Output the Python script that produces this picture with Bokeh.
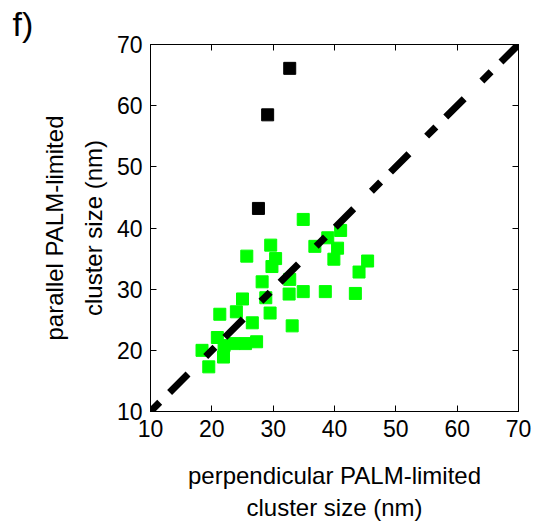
from bokeh.plotting import figure
from bokeh.models import Range1d, LinearAxis, FixedTicker, Title
from bokeh.embed import file_html
from bokeh.resources import INLINE

# Data (nm)
green_perp = [34.9, 29.6, 25.7, 30.4, 29.8, 28.2, 32.7, 28.8, 32.6, 34.9, 25.0,
              36.8, 38.9, 41.0, 40.5, 39.9, 45.4, 44.0, 43.4, 38.5, 33.1,
              21.3, 24.0, 29.5, 26.6, 20.9, 23.6, 22.0, 25.5, 27.3, 18.4, 21.9, 19.5]
green_par = [41.4, 37.2, 35.4, 35.0, 33.7, 31.2, 31.6, 28.6, 29.2, 29.6, 28.4,
             37.0, 38.4, 39.6, 36.7, 34.9, 34.6, 32.8, 29.3, 29.6, 24.0,
             25.9, 26.3, 26.1, 24.5, 22.1, 21.1, 20.8, 21.1, 21.4, 20.0, 18.9, 17.3]
black_perp = [32.7, 29.1, 27.6]
black_par = [66.1, 58.5, 43.2]
diag = [10, 70]
ticks = [10, 20, 30, 40, 50, 60, 70]

FONT = "Liberation Sans"

p = figure(width=534, height=523, x_range=Range1d(10, 70), y_range=Range1d(10, 70),
           output_backend="svg", toolbar_location=None,
           min_border_left=150, min_border_right=16, min_border_top=44, min_border_bottom=110)
p.grid.visible = False
p.outline_line_color = "black"
p.outline_line_width = 1

p.scatter(green_perp, green_par, marker="square", size=12, fill_color="#00ff00", line_color="#00ff00")
p.scatter(black_perp, black_par, marker="square", size=12, fill_color="black", line_color="black")
p.line(diag, diag, line_color="black", line_width=7, line_dash="13 14 26 25")

for ax in (p.xaxis[0], p.yaxis[0]):
    ax.ticker = FixedTicker(ticks=ticks)
    ax.major_tick_in = 6
    ax.major_tick_out = 0
    ax.minor_tick_line_color = None
    ax.axis_line_color = "black"
    ax.major_tick_line_color = "black"
    ax.major_label_text_font = FONT
    ax.major_label_text_font_size = "23px"
    ax.major_label_text_color = "black"
    ax.axis_label_text_font = FONT
    ax.axis_label_text_font_size = "24px"
    ax.axis_label_text_font_style = "normal"
    ax.axis_label_text_color = "black"

p.xaxis[0].axis_label = "perpendicular PALM-limited\ncluster size (nm)"
p.yaxis[0].axis_label = "parallel PALM-limited\ncluster size (nm)"
p.xaxis[0].axis_label_text_line_height = 1.2
p.yaxis[0].axis_label_text_line_height = 1.45
p.xaxis[0].major_label_standoff = 8
p.yaxis[0].major_label_standoff = 8
p.xaxis[0].axis_label_standoff = 22
p.yaxis[0].axis_label_standoff = 7

for loc in ("right", "above"):
    ax = LinearAxis(ticker=FixedTicker(ticks=ticks), major_tick_in=6, major_tick_out=0,
                    minor_tick_line_color=None, axis_line_color="black",
                    major_label_overrides={t: "" for t in ticks},
                    major_label_text_font_size="4px", major_label_standoff=0)
    p.add_layout(ax, loc)

p.title = Title(text="f)", align="left", offset=-138, standoff=0, vertical_align="top",
                text_font=FONT, text_font_size="34px", text_font_style="normal",
                text_color="black")

open("out.html", "w").write(file_html(p, INLINE))
